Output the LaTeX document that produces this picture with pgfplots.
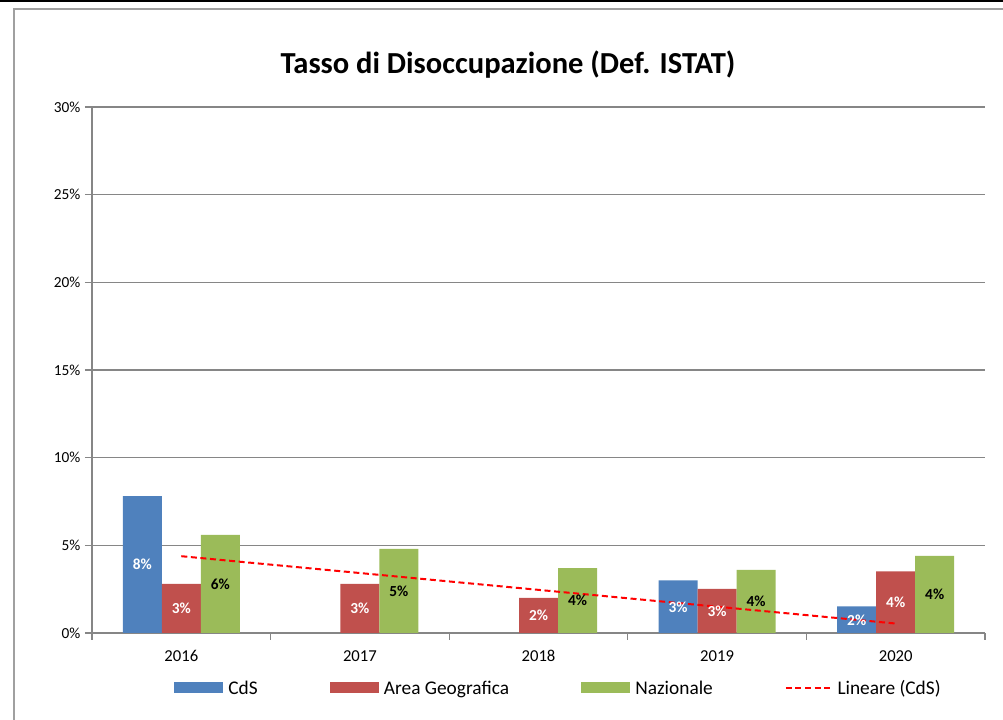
\documentclass[border=0pt]{standalone}
\usepackage{pgfplots}
\pgfplotsset{compat=1.18}
\usepackage{fontspec}
\setmainfont{Carlito}
\definecolor{cblue}{HTML}{4F81BD}
\definecolor{cred}{HTML}{C0504D}
\definecolor{cgreen}{HTML}{9BBB59}
\definecolor{axgray}{HTML}{868686}
\definecolor{framegray}{HTML}{A0A0A0}
\pgfplotsset{
  barlabels/.style={
    point meta=explicit symbolic,
    visualization depends on={y \as \rawy},
    nodes near coords,
    every node near coord/.append style={anchor=center, font=\fontsize{11.5}{13}\selectfont\bfseries,
       text height=8pt, text depth=0pt,
       xshift=#1, shift={(axis direction cs:0,-\rawy/2)}},
  }
}
\begin{document}
\begin{tikzpicture}[x=1pt,y=1pt]
\path[use as bounding box] (0,0) rectangle (752.25,540);
\draw[black, line width=1.5pt] (0,539.25) -- (752.25,539.25);
\draw[framegray, line width=1.5pt] (10.5,-2) -- (10.5,533.25) -- (755,533.25);
\node[font=\fontsize{22.9}{27}\selectfont\bfseries] at (381,491.25) {Tasso di Disoccupazione (Def. ISTAT)};
\begin{axis}[
  at={(69pt,65.25pt)}, anchor=south west,
  scale only axis, width=669.75pt, height=394.5pt,
  xmin=-0.5, xmax=4.5, ymin=0, ymax=30,
  axis lines*=left,
  axis line style={axgray, line width=1pt},
  xtick={0,1,2,3,4},
  xticklabels={2016,2017,2018,2019,2020},
  minor xtick={-0.5,0.5,1.5,2.5,3.5,4.5},
  major x tick style={draw=none},
  minor x tick style={axgray, line width=1pt},
  ytick={0,5,10,15,20,25,30},
  y tick style={axgray, line width=1pt},
  tick align=outside,
  major tick length=5.25pt, minor tick length=5.25pt,
  yticklabel={\pgfmathprintnumber{\tick}\%},
  /pgf/number format/assume math mode=true,
  yticklabel style={font=\fontsize{11.5}{13}\selectfont, text=black},
  xticklabel style={font=\fontsize{12.5}{14}\selectfont, text=black, yshift=-3.75pt,
     text height=9pt, text depth=0pt},
  ymajorgrids,
  grid style={axgray, line width=1pt},
  legend style={at={(axis description cs:0.0918,-0.108)}, anchor=west,
    draw=none, fill=none, inner sep=0pt, outer sep=0pt,
    font=\fontsize{14.5}{16}\selectfont,
    nodes={inner sep=0pt, outer sep=0pt, text height=10pt, text depth=3pt},
    /tikz/every odd column/.append style={column sep=4pt},
    /tikz/every even column/.append style={column sep=54pt}},
  legend columns=4,
  legend cell align=left,
  clip=false,
]
\addplot[ybar, bar width=29.25pt, bar shift=-29.25pt, fill=cblue, draw=none,
  barlabels=-29.25pt,
  every node near coord/.append style={text=white},
  legend image code/.code={\fill[cblue] (0pt,-2.6pt) rectangle (36.75pt,5.6pt);}]
  coordinates {(0,7.8) [8\%] (3,3.0) [3\%] (4,1.52) [2\%]};
\addlegendentry{CdS}
\addplot[ybar, bar width=29.25pt, bar shift=0pt, fill=cred, draw=none,
  barlabels=0pt,
  every node near coord/.append style={text=white},
  legend image code/.code={\fill[cred] (0pt,-2.6pt) rectangle (36.75pt,5.6pt);}]
  coordinates {(0,2.8) [3\%] (1,2.8) [3\%] (2,2.0) [2\%] (3,2.52) [3\%] (4,3.52) [4\%]};
\addlegendentry{Area Geografica}
\addplot[ybar, bar width=29.25pt, bar shift=29.25pt, fill=cgreen, draw=none,
  barlabels=29.25pt,
  every node near coord/.append style={text=black},
  legend image code/.code={\fill[cgreen] (0pt,-2.6pt) rectangle (36.75pt,5.6pt);}]
  coordinates {(0,5.6) [6\%] (1,4.8) [5\%] (2,3.7) [4\%] (3,3.6) [4\%] (4,4.4) [4\%]};
\addlegendentry{Nazionale}
\addplot[sharp plot, red, line width=1.5pt, dash pattern=on 4.5pt off 2.7pt, mark=none,
  legend image code/.code={\draw[red, line width=1.5pt, dash pattern=on 4.5pt off 2.7pt] (0pt,1.5pt) -- (34pt,1.5pt);}]
  coordinates {(0,4.38) (4,0.54)};
\addlegendentry{Lineare (CdS)}
\end{axis}
\end{tikzpicture}
\end{document}
